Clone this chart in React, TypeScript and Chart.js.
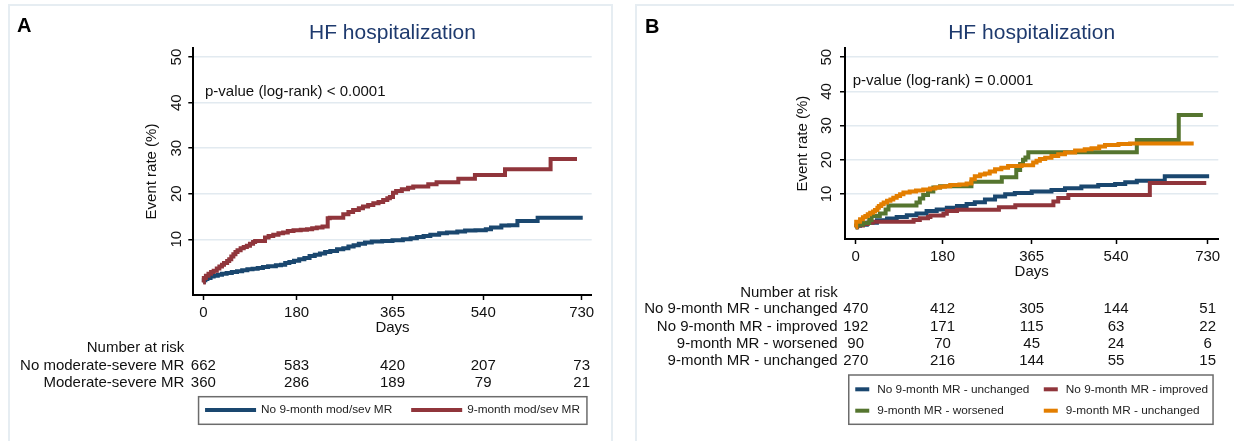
import React, { useEffect, useRef } from "react";
import { Chart, registerables } from "chart.js";

Chart.register(...registerables);

const FONT = "'Liberation Sans', Arial, Helvetica, sans-serif";
Chart.defaults.font.family = FONT;

const NAVY = "#1a476f";
const MAROON = "#90353b";
const GREEN = "#55752f";
const ORANGE = "#e37e00";
const TITLE_COLOR = "#1e3a6e";
const GRID_COLOR = "#e2eaf0";

// ---------- shared axis ticks ----------
const xTickDays = [0, 180, 365, 540, 730];
const yTickRates = [10, 20, 30, 40, 50];
const riskDays = [0, 180, 365, 540, 730];

// ---------- Panel A ----------
const aTitle = "HF hospitalization";
const aPValue = "p-value (log-rank) < 0.0001";
const aLegendLabels = ["No 9-month mod/sev MR", "9-month mod/sev MR"];
const aRiskLabels = ["No moderate-severe MR", "Moderate-severe MR"];

const aNoMrDays = [0, 1, 4, 8, 14, 20, 28, 36, 45, 55, 65, 75, 85, 95, 105, 115, 125, 140, 150, 158, 166, 175, 185, 195, 205, 215, 225, 235, 245, 258, 270, 280, 290, 300, 312, 325, 345, 365, 385, 400, 412, 425, 438, 455, 470, 490, 505, 525, 545, 555, 575, 590, 606, 645, 732];
const aNoMrRates = [0.6, 1.0, 1.3, 1.5, 1.8, 2.0, 2.2, 2.4, 2.6, 2.8, 3.0, 3.2, 3.4, 3.5, 3.7, 3.9, 4.1, 4.3, 4.4, 4.8, 5.0, 5.3, 5.6, 5.9, 6.3, 6.6, 6.9, 7.2, 7.4, 7.8, 8.0, 8.4, 8.7, 9.0, 9.3, 9.5, 9.6, 9.8, 10.0, 10.2, 10.5, 10.7, 11.0, 11.3, 11.5, 11.7, 11.9, 12.0, 12.2, 12.6, 13.0, 13.1, 14.0, 14.7, 14.7];

const aMrDays = [0, 1, 5, 10, 15, 20, 26, 31, 36, 40, 46, 50, 54, 58, 62, 66, 72, 78, 84, 90, 96, 100, 119, 126, 135, 145, 154, 163, 174, 188, 200, 210, 219, 230, 240, 244, 270, 280, 289, 300, 308, 318, 328, 338, 347, 355, 360, 366, 372, 383, 395, 405, 434, 450, 492, 524, 582, 670, 721];
const aMrRates = [0.5, 1.5, 2.0, 2.4, 2.8, 3.1, 3.6, 4.0, 4.4, 4.8, 5.2, 5.6, 6.2, 6.7, 7.2, 7.6, 8.0, 8.3, 8.6, 9.0, 9.4, 9.6, 10.4, 10.7, 11.0, 11.3, 11.5, 11.8, 12.0, 12.1, 12.2, 12.4, 12.6, 12.8, 14.6, 14.7, 15.5, 16.0, 16.4, 16.8, 17.2, 17.5, 17.9, 18.2, 18.6, 19.0, 19.3, 20.2, 20.6, 21.0, 21.3, 21.6, 22.1, 22.5, 23.3, 24.1, 25.4, 27.6, 27.6];

const aRiskNoMr = [662, 583, 420, 207, 73];
const aRiskMr = [360, 286, 189, 79, 21];

// ---------- Panel B ----------
const bTitle = "HF hospitalization";
const bPValue = "p-value (log-rank) = 0.0001";
const bLabels = [
  "No 9-month MR - unchanged",
  "No 9-month MR - improved",
  "9-month MR - worsened",
  "9-month MR - unchanged",
];

const bNoUnchDays = [0, 1, 9, 23, 44, 65, 85, 106, 126, 147, 168, 189, 210, 230, 247, 268, 289, 310, 330, 365, 406, 434, 468, 503, 538, 559, 583, 641, 733];
const bNoUnchRates = [0.3, 0.7, 1.0, 1.6, 2.3, 2.8, 3.3, 3.8, 4.3, 5.0, 5.5, 6.0, 6.5, 7.1, 7.6, 8.4, 9.3, 9.9, 10.3, 10.7, 11.2, 11.7, 12.2, 12.6, 12.9, 13.4, 13.9, 15.2, 15.2];

const bNoImprDays = [0, 3, 15, 25, 35, 120, 133, 150, 155, 182, 189, 210, 297, 331, 410, 420, 441, 610, 727];
const bNoImprRates = [0.3, 0.8, 1.2, 1.6, 1.9, 2.4, 2.9, 3.3, 3.7, 4.2, 5.0, 5.4, 6.1, 6.7, 7.8, 8.8, 9.7, 13.2, 13.2];

const bWorsDays = [0, 2, 15, 28, 33, 50, 62, 68, 126, 133, 140, 150, 161, 175, 240, 303, 333, 341, 347, 352, 358, 583, 670, 720];
const bWorsRates = [0.3, 1.0, 1.5, 2.4, 3.6, 4.3, 5.5, 6.6, 7.5, 8.7, 9.7, 10.7, 11.9, 12.3, 13.6, 14.9, 17.0, 18.8, 20.0, 20.7, 22.2, 25.8, 33.1, 33.1];

const bUnchDays = [0, 1, 9, 15, 20, 25, 30, 36, 40, 45, 48, 53, 58, 65, 72, 78, 85, 92, 99, 112, 125, 140, 154, 165, 175, 185, 196, 215, 230, 240, 247, 258, 268, 278, 289, 302, 316, 344, 368, 375, 382, 393, 406, 420, 434, 455, 475, 489, 505, 517, 545, 569, 701];
const bUnchRates = [0.3, 1.9, 2.6, 3.2, 3.6, 4.1, 4.5, 4.9, 5.3, 6.0, 6.5, 7.0, 7.5, 8.0, 8.4, 8.9, 9.4, 9.9, 10.4, 10.7, 11.0, 11.3, 11.6, 11.9, 12.1, 12.3, 12.6, 12.8, 13.1, 14.3, 15.2, 15.7, 16.0, 16.6, 17.2, 17.7, 18.2, 18.4, 19.2, 19.7, 20.2, 20.6, 21.1, 21.6, 22.1, 22.7, 23.1, 23.4, 23.9, 24.3, 24.6, 24.8, 24.8];

const bRiskNoUnch = [470, 412, 305, 144, 51];
const bRiskNoImpr = [192, 171, 115, 63, 22];
const bRiskWors = [90, 70, 45, 24, 6];
const bRiskUnch = [270, 216, 144, 55, 15];

// ---------- specs ----------
type Series = { label: string; color: string; days: number[]; rates: number[] };
type LegendSpec = {
  cols: number; markerLen: number; markerGap: number; colGap: number;
  rowYs: number[]; boxTop: number; boxBottom: number; padL: number; padR: number; fontSize: number;
};
type PanelSpec = {
  left: number; width: number; height: number;
  letter: string; letterX: number; letterY: number;
  title: string; pText: string; pDay: number; pRate: number;
  series: Series[];
  xMin: number; xMax: number; yMin: number; yMax: number;
  padLeft: number; padRight: number; yAxisWidth: number; xAxisHeight: number;
  titlePadTop: number; titlePadBottom: number; yTitlePad: number; yTickPad: number;
  xTickPad: number; daysPadBottom: number;
  riskHeaderY: number; riskRowYs: number[]; riskLabels: string[]; riskRows: number[][]; riskGap: number;
  legend: LegendSpec;
};

const TICK_FONT = 15;

const panelA: PanelSpec = {
  left: 0, width: 620, height: 441,
  letter: "A", letterX: 17, letterY: 26,
  title: aTitle, pText: aPValue, pDay: 3.3, pRate: 42.4,
  series: [
    { label: aLegendLabels[0], color: NAVY, days: aNoMrDays, rates: aNoMrRates },
    { label: aLegendLabels[1], color: MAROON, days: aMrDays, rates: aMrRates },
  ],
  xMin: -19.3, xMax: 749.3, yMin: -2.24, yMax: 52,
  padLeft: 133.3, padRight: 28.3, yAxisWidth: 60, xAxisHeight: 146,
  titlePadTop: 20.4, titlePadBottom: 2.4, yTitlePad: 9.4, yTickPad: 3.3,
  xTickPad: 4.0, daysPadBottom: 104,
  riskHeaderY: 348, riskRowYs: [366, 383], riskLabels: aRiskLabels, riskRows: [aRiskNoMr, aRiskMr], riskGap: 19,
  legend: { cols: 2, markerLen: 51, markerGap: 5, colGap: 19, rowYs: [410], boxTop: 396.7, boxBottom: 424.3, padL: 6.5, padR: 7, fontSize: 11.8 },
};

const panelB: PanelSpec = {
  left: 620, width: 614, height: 441,
  letter: "B", letterX: 25, letterY: 27.5,
  title: bTitle, pText: bPValue, pDay: -6.2, pRate: 43.1,
  series: [
    { label: bLabels[0], color: NAVY, days: bNoUnchDays, rates: bNoUnchRates },
    { label: bLabels[1], color: MAROON, days: bNoImprDays, rates: bNoImprRates },
    { label: bLabels[2], color: GREEN, days: bWorsDays, rates: bWorsRates },
    { label: bLabels[3], color: ORANGE, days: bUnchDays, rates: bUnchRates },
  ],
  xMin: -22.2, xMax: 752, yMin: -3.16, yMax: 52.6,
  padLeft: 165, padRight: 15.7, yAxisWidth: 60, xAxisHeight: 202,
  titlePadTop: 20.4, titlePadBottom: 2.7, yTitlePad: 9.3, yTickPad: 5.0,
  xTickPad: 4.0, daysPadBottom: 160,
  riskHeaderY: 292.7, riskRowYs: [309.3, 326.7, 344, 361], riskLabels: bLabels,
  riskRows: [bRiskNoUnch, bRiskNoImpr, bRiskWors, bRiskUnch], riskGap: 18,
  legend: { cols: 2, markerLen: 14, markerGap: 8, colGap: 14.4, rowYs: [389.3, 410.7], boxTop: 375, boxBottom: 424.3, padL: 6.5, padR: 5, fontSize: 11.8 },
};

function drawLegend(ctx: CanvasRenderingContext2D, chart: any, s: PanelSpec) {
  const L = s.legend;
  ctx.font = `${L.fontSize}px ${FONT}`;
  const n = s.series.length;
  const rows = Math.ceil(n / L.cols);
  const colW: number[] = [];
  for (let c = 0; c < L.cols; c++) {
    let w = 0;
    for (let r = 0; r < rows; r++) {
      const i = r * L.cols + c;
      if (i < n) w = Math.max(w, ctx.measureText(s.series[i].label).width);
    }
    colW.push(L.markerLen + L.markerGap + w);
  }
  const total = colW.reduce((a, b) => a + b, 0) + L.colGap * (L.cols - 1);
  const cx = (chart.chartArea.left + chart.chartArea.right) / 2;
  const x0 = cx - total / 2;
  ctx.strokeStyle = "#6c6c6c";
  ctx.lineWidth = 1.5;
  ctx.strokeRect(x0 - L.padL, L.boxTop, total + L.padL + L.padR, L.boxBottom - L.boxTop);
  s.series.forEach((ser, i) => {
    const r = Math.floor(i / L.cols);
    const c = i % L.cols;
    let x = x0;
    for (let k = 0; k < c; k++) x += colW[k] + L.colGap;
    const y = L.rowYs[r];
    ctx.fillStyle = ser.color;
    ctx.fillRect(x, y - 2, L.markerLen, 4);
    ctx.fillStyle = "#222";
    ctx.textAlign = "left";
    ctx.textBaseline = "middle";
    ctx.fillText(ser.label, x + L.markerLen + L.markerGap, y);
  });
}

function buildConfig(s: PanelSpec): any {
  const annotate = {
    id: "annotate" + s.letter,
    afterDraw(chart: any) {
      const ctx: CanvasRenderingContext2D = chart.ctx;
      const xs = chart.scales.x;
      const ys = chart.scales.y;
      ctx.save();
      // panel letter
      ctx.fillStyle = "#000";
      ctx.font = `bold 20px ${FONT}`;
      ctx.textAlign = "left";
      ctx.textBaseline = "middle";
      ctx.fillText(s.letter, s.letterX, s.letterY);
      // p-value
      ctx.font = `15px ${FONT}`;
      ctx.fillStyle = "#111";
      ctx.fillText(s.pText, xs.getPixelForValue(s.pDay), ys.getPixelForValue(s.pRate));
      // number at risk
      const x0 = xs.getPixelForValue(riskDays[0]);
      ctx.textAlign = "right";
      ctx.fillText("Number at risk", x0 - s.riskGap, s.riskHeaderY);
      s.riskRows.forEach((row, i) => {
        ctx.textAlign = "right";
        ctx.fillText(s.riskLabels[i], x0 - s.riskGap, s.riskRowYs[i]);
        ctx.textAlign = "center";
        row.forEach((v, j) => {
          ctx.fillText(String(v), xs.getPixelForValue(riskDays[j]), s.riskRowYs[i]);
        });
      });
      drawLegend(ctx, chart, s);
      ctx.restore();
    },
  };

  return {
    type: "line",
    data: {
      datasets: s.series.map((ser, i) => ({
        label: ser.label,
        data: ser.days.map((d, k) => ({ x: d, y: ser.rates[k] })),
        borderColor: ser.color,
        backgroundColor: ser.color,
        borderWidth: 4,
        pointRadius: 0,
        fill: false,
        stepped: "before",
        order: s.series.length - i,
        borderCapStyle: "butt",
        borderJoinStyle: "miter",
      })),
    },
    options: {
      responsive: false,
      animation: false,
      devicePixelRatio: 1,
      events: [],
      layout: { padding: { left: s.padLeft, right: s.padRight, top: 0, bottom: 0 } },
      plugins: {
        legend: { display: false },
        tooltip: { enabled: false },
        title: {
          display: true,
          text: s.title,
          color: TITLE_COLOR,
          font: { size: 21, weight: "normal", family: FONT },
          padding: { top: s.titlePadTop, bottom: s.titlePadBottom },
          fullSize: false,
          align: "center",
        },
      },
      scales: {
        x: {
          type: "linear",
          min: s.xMin,
          max: s.xMax,
          afterBuildTicks: (sc: any) => {
            sc.ticks = xTickDays.map((v) => ({ value: v }));
          },
          afterFit: (sc: any) => {
            sc.height = s.xAxisHeight;
          },
          ticks: {
            color: "#111",
            font: { size: TICK_FONT },
            padding: s.xTickPad,
            maxRotation: 0,
            minRotation: 0,
            autoSkip: false,
            callback: (v: any) => String(v),
          },
          grid: { drawOnChartArea: false, drawTicks: true, tickLength: 5, tickColor: "#000", tickWidth: 1.5 },
          border: { display: true, color: "#000", width: 2 },
          title: {
            display: true,
            text: "Days",
            color: "#111",
            font: { size: 15 },
            padding: { top: 0, bottom: s.daysPadBottom },
          },
        },
        y: {
          type: "linear",
          min: s.yMin,
          max: s.yMax,
          afterBuildTicks: (sc: any) => {
            sc.ticks = yTickRates.map((v) => ({ value: v }));
          },
          afterFit: (sc: any) => {
            sc.width = s.yAxisWidth;
          },
          ticks: {
            color: "#111",
            font: { size: TICK_FONT },
            padding: s.yTickPad,
            minRotation: 90,
            maxRotation: 90,
            crossAlign: "center",
            callback: (v: any) => String(v),
          },
          grid: { color: GRID_COLOR, lineWidth: 1.5, drawTicks: true, tickLength: 5, tickColor: "#000", tickWidth: 1.5 },
          border: { display: true, color: "#000", width: 2 },
          title: {
            display: true,
            text: "Event rate (%)",
            color: "#111",
            font: { size: 15 },
            padding: { top: s.yTitlePad, bottom: 0 },
          },
        },
      },
    },
    plugins: [annotate],
  };
}

function Panel({ spec }: { spec: PanelSpec }) {
  const ref = useRef<HTMLCanvasElement>(null);
  useEffect(() => {
    const canvas = ref.current;
    if (!canvas) return;
    const chart = new Chart(canvas, buildConfig(spec));
    return () => chart.destroy();
  }, [spec]);
  return (
    <canvas
      ref={ref}
      width={spec.width}
      height={spec.height}
      style={{ position: "absolute", left: spec.left, top: 0, width: spec.width, height: spec.height }}
    />
  );
}

export default function App() {
  return (
    <div
      style={{
        position: "absolute",
        left: 0,
        top: 0,
        width: 1234,
        height: 441,
        overflow: "hidden",
        background: "#fff",
      }}
    >
      <div
        style={{
          position: "absolute",
          left: 8,
          top: 4,
          width: 605,
          height: 460,
          border: "2px solid #e6edf2",
          boxSizing: "border-box",
        }}
      />
      <div
        style={{
          position: "absolute",
          left: 635,
          top: 4,
          width: 700,
          height: 460,
          border: "2px solid #e6edf2",
          boxSizing: "border-box",
        }}
      />
      <Panel spec={panelA} />
      <Panel spec={panelB} />
    </div>
  );
}
